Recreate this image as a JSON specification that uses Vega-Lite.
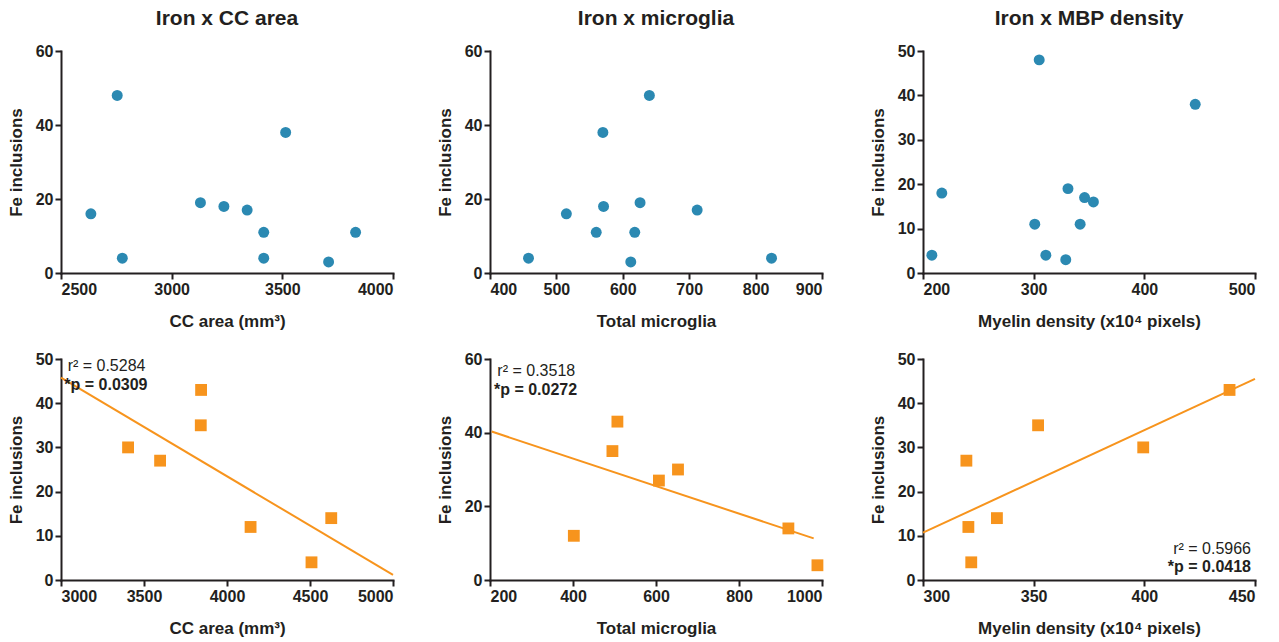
{
  "$schema": "https://vega.github.io/schema/vega-lite/v6.json",
  "background": "white",
  "padding": {"left": 7, "top": 8, "right": 5, "bottom": 5},
  "datasets": {
    "cc": [
      {"x": 2754, "fe": 48}, {"x": 2635, "fe": 16}, {"x": 2777, "fe": 4}, {"x": 3130, "fe": 19},
      {"x": 3236, "fe": 18}, {"x": 3341, "fe": 17}, {"x": 3416, "fe": 11}, {"x": 3416, "fe": 4},
      {"x": 3515, "fe": 38}, {"x": 3709, "fe": 3}, {"x": 3831, "fe": 11}
    ],
    "mg": [
      {"x": 640, "fe": 48}, {"x": 570, "fe": 38}, {"x": 515, "fe": 16}, {"x": 571, "fe": 18},
      {"x": 626, "fe": 19}, {"x": 560, "fe": 11}, {"x": 618, "fe": 11}, {"x": 458, "fe": 4},
      {"x": 612, "fe": 3}, {"x": 712, "fe": 17}, {"x": 824, "fe": 4}
    ],
    "mbp": [
      {"x": 305, "fe": 48}, {"x": 446, "fe": 38}, {"x": 217, "fe": 18}, {"x": 208, "fe": 4},
      {"x": 331, "fe": 19}, {"x": 346, "fe": 17}, {"x": 354, "fe": 16}, {"x": 301, "fe": 11},
      {"x": 342, "fe": 11}, {"x": 311, "fe": 4}, {"x": 329, "fe": 3}
    ],
    "cc2": [
      {"x": 3844, "fe": 43}, {"x": 3842, "fe": 35}, {"x": 3404, "fe": 30}, {"x": 3597, "fe": 27},
      {"x": 4142, "fe": 12}, {"x": 4509, "fe": 4}, {"x": 4628, "fe": 14}
    ],
    "mg2": [
      {"x": 507, "fe": 43}, {"x": 495, "fe": 35}, {"x": 607, "fe": 27}, {"x": 653, "fe": 30},
      {"x": 402, "fe": 12}, {"x": 919, "fe": 14}, {"x": 989, "fe": 4}
    ],
    "mbp2": [
      {"x": 438.5, "fe": 43}, {"x": 352, "fe": 35}, {"x": 399.5, "fe": 30}, {"x": 319.6, "fe": 27},
      {"x": 320.5, "fe": 12}, {"x": 333.4, "fe": 14}, {"x": 321.8, "fe": 4}
    ],
    "ccfit": [{"x": 3000, "fe": 45.8}, {"x": 5000, "fe": 1.15}],
    "mgfit": [{"x": 204, "fe": 40.3}, {"x": 980, "fe": 11.3}],
    "mbpfit": [{"x": 300, "fe": 10.7}, {"x": 450, "fe": 45.5}],
    "ccann": [{"x": 3040, "fe": 48.5, "label": "r² = 0.5284", "kind": "r"}, {"x": 3020, "fe": 44.2, "label": "*p = 0.0309", "kind": "p"}],
    "mgann": [{"x": 217.7, "fe": 56.7, "label": "r² = 0.3518", "kind": "r"}, {"x": 209.6, "fe": 51.5, "label": "*p = 0.0272", "kind": "p"}],
    "mbpann": [{"x": 448.2, "fe": 7.0, "label": "r² = 0.5966", "kind": "r"}, {"x": 448.2, "fe": 2.9, "label": "*p = 0.0418", "kind": "p"}]
  },
  "config": {
    "font": "Liberation Sans",
    "view": {"stroke": null},
    "axis": {
      "grid": false,
      "format": "d",
      "domainColor": "#231F20",
      "domainWidth": 2,
      "domainCap": "square",
      "tickColor": "#231F20",
      "tickWidth": 2,
      "tickSize": 6,
      "labelFont": "Liberation Sans",
      "labelFontSize": 16,
      "labelFontWeight": "bold",
      "labelColor": "#231F20",
      "labelPadding": 2,
      "labelOverlap": false,
      "titleFont": "Liberation Sans",
      "titleFontSize": 17,
      "titleFontWeight": "bold",
      "titleColor": "#231F20"
    },
    "axisX": {"titlePadding": 16},
    "axisY": {"titlePadding": 10},
    "title": {"font": "Liberation Sans", "fontSize": 21, "fontWeight": "bold", "color": "#231F20", "anchor": "middle", "frame": "group", "offset": 14},
    "circle": {"size": 120, "color": "#2B89B2", "opacity": 1},
    "square": {"size": 140, "color": "#F7941D", "opacity": 1},
    "line": {"color": "#F7941D", "strokeWidth": 2}
  },
  "spacing": 39,
  "hconcat": [
    {
      "spacing": 22,
      "vconcat": [
        {
          "title": "Iron x CC area",
          "width": 332, "height": 222,
          "data": {"name": "cc"},
          "mark": "circle",
          "encoding": {
            "x": {"field": "x", "type": "quantitative", "scale": {"domain": [2500, 4000], "nice": false, "zero": false}, "axis": {"title": "CC area (mm³)", "values": [2500, 3000, 3500, 4000]}},
            "y": {"field": "fe", "type": "quantitative", "scale": {"domain": [0, 60], "nice": false}, "axis": {"title": "Fe inclusions", "values": [0, 20, 40, 60]}}
          }
        },
        {
          "width": 332, "height": 221,
          "encoding": {
            "x": {"field": "x", "type": "quantitative", "scale": {"domain": [3000, 5000], "nice": false, "zero": false}, "axis": {"title": "CC area (mm³)", "values": [3000, 3500, 4000, 4500, 5000]}},
            "y": {"field": "fe", "type": "quantitative", "scale": {"domain": [0, 50], "nice": false}, "axis": {"title": "Fe inclusions", "values": [0, 10, 20, 30, 40, 50]}}
          },
          "layer": [
            {"data": {"name": "ccfit"}, "mark": "line"},
            {"data": {"name": "cc2"}, "mark": "square"},
            {"data": {"name": "ccann"}, "transform": [{"filter": "datum.kind == 'r'"}], "mark": {"type": "text", "align": "left", "baseline": "middle", "fontSize": 16, "color": "#231F20"}, "encoding": {"text": {"field": "label"}}},
            {"data": {"name": "ccann"}, "transform": [{"filter": "datum.kind == 'p'"}], "mark": {"type": "text", "align": "left", "baseline": "middle", "fontSize": 16, "fontWeight": "bold", "color": "#231F20"}, "encoding": {"text": {"field": "label"}}}
          ]
        }
      ]
    },
    {
      "spacing": 45,
      "hconcat": [
        {
          "spacing": 22,
          "vconcat": [
            {
              "title": "Iron x microglia",
              "width": 332, "height": 222,
              "data": {"name": "mg"},
              "mark": "circle",
              "encoding": {
                "x": {"field": "x", "type": "quantitative", "scale": {"domain": [400, 900], "nice": false, "zero": false}, "axis": {"title": "Total microglia", "values": [400, 500, 600, 700, 800, 900]}},
                "y": {"field": "fe", "type": "quantitative", "scale": {"domain": [0, 60], "nice": false}, "axis": {"title": "Fe inclusions", "values": [0, 20, 40, 60]}}
              }
            },
            {
              "width": 332, "height": 221,
              "encoding": {
                "x": {"field": "x", "type": "quantitative", "scale": {"domain": [200, 1000], "nice": false, "zero": false}, "axis": {"title": "Total microglia", "values": [200, 400, 600, 800, 1000]}},
                "y": {"field": "fe", "type": "quantitative", "scale": {"domain": [0, 60], "nice": false}, "axis": {"title": "Fe inclusions", "values": [0, 20, 40, 60]}}
              },
              "layer": [
                {"data": {"name": "mgfit"}, "mark": "line"},
                {"data": {"name": "mg2"}, "mark": "square"},
                {"data": {"name": "mgann"}, "transform": [{"filter": "datum.kind == 'r'"}], "mark": {"type": "text", "align": "left", "baseline": "middle", "fontSize": 16, "color": "#231F20"}, "encoding": {"text": {"field": "label"}}},
                {"data": {"name": "mgann"}, "transform": [{"filter": "datum.kind == 'p'"}], "mark": {"type": "text", "align": "left", "baseline": "middle", "fontSize": 16, "fontWeight": "bold", "color": "#231F20"}, "encoding": {"text": {"field": "label"}}}
              ]
            }
          ]
        },
        {
          "spacing": 22,
          "vconcat": [
            {
              "title": "Iron x MBP density",
              "width": 332, "height": 222,
              "data": {"name": "mbp"},
              "mark": "circle",
              "encoding": {
                "x": {"field": "x", "type": "quantitative", "scale": {"domain": [200, 500], "nice": false, "zero": false}, "axis": {"title": "Myelin density (x10⁴ pixels)", "values": [200, 300, 400, 500]}},
                "y": {"field": "fe", "type": "quantitative", "scale": {"domain": [0, 50], "nice": false}, "axis": {"title": "Fe inclusions", "values": [0, 10, 20, 30, 40, 50]}}
              }
            },
            {
              "width": 332, "height": 221,
              "encoding": {
                "x": {"field": "x", "type": "quantitative", "scale": {"domain": [300, 450], "nice": false, "zero": false}, "axis": {"title": "Myelin density (x10⁴ pixels)", "values": [300, 350, 400, 450]}},
                "y": {"field": "fe", "type": "quantitative", "scale": {"domain": [0, 50], "nice": false}, "axis": {"title": "Fe inclusions", "values": [0, 10, 20, 30, 40, 50]}}
              },
              "layer": [
                {"data": {"name": "mbpfit"}, "mark": "line"},
                {"data": {"name": "mbp2"}, "mark": "square"},
                {"data": {"name": "mbpann"}, "transform": [{"filter": "datum.kind == 'r'"}], "mark": {"type": "text", "align": "right", "baseline": "middle", "fontSize": 16, "color": "#231F20"}, "encoding": {"text": {"field": "label"}}},
                {"data": {"name": "mbpann"}, "transform": [{"filter": "datum.kind == 'p'"}], "mark": {"type": "text", "align": "right", "baseline": "middle", "fontSize": 16, "fontWeight": "bold", "color": "#231F20"}, "encoding": {"text": {"field": "label"}}}
              ]
            }
          ]
        }
      ]
    }
  ]
}
